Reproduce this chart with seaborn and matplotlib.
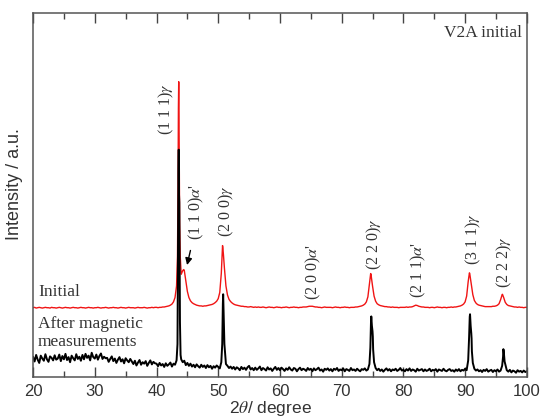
import numpy as np
import seaborn as sns
import matplotlib.pyplot as plt

# 2theta grid (0.25 deg steps) and intensities (a.u., axis 0..1000)
grid_2theta = np.arange(20, 100.001, 0.25)

initial_counts = [
    190, 191, 189, 190, 191, 190, 189, 190, 191, 190, 190, 189, 191, 190, 190, 189,  # 20
    190, 191, 190, 189, 190, 191, 190, 190, 189, 190, 191, 190, 190, 189, 190, 191,  # 24
    190, 190, 189, 190, 191, 190, 190, 189, 190, 190, 191, 190, 189, 190, 190, 191,  # 28
    190, 189, 190, 190, 191, 190, 190, 189, 190, 191, 190, 190, 189, 190, 191, 190,  # 32
    190, 190, 189, 190, 191, 190, 190, 190, 191, 190, 189, 190, 190, 191, 190, 191,  # 36
    191, 190, 191, 191, 192, 192, 193, 194, 195, 197, 200, 206, 218, 250, 560, 420,  # 40
    282, 292, 293, 265, 235, 218, 209, 204, 201, 199, 197, 196, 195, 195, 194, 195,  # 44
    195, 196, 197, 198, 199, 201, 204, 208, 215, 232, 285, 355, 300, 250, 225, 213,  # 48
    207, 203, 200, 198, 197, 196, 195, 194, 194, 193, 193, 192, 192, 193, 192, 191,  # 52
    192, 191, 192, 191, 191, 192, 191, 190, 191, 192, 191, 191, 190, 191, 192, 191,  # 56
    191, 190, 191, 191, 192, 191, 190, 191, 191, 192, 191, 191, 190, 191, 191, 192,  # 60
    192, 192, 193, 194, 194, 194, 193, 192, 192, 191, 191, 190, 191, 192, 191, 191,  # 64
    191, 191, 190, 191, 192, 191, 191, 190, 191, 191, 192, 191, 191, 190, 191, 191,  # 68
    191, 192, 192, 193, 194, 195, 197, 200, 206, 220, 255, 282, 250, 222, 208, 201,  # 72
    198, 196, 195, 194, 193, 193, 192, 192, 191, 192, 191, 191, 191, 190, 191, 191,  # 76
    191, 191, 192, 191, 192, 192, 193, 195, 197, 196, 194, 193, 192, 192, 191, 191,  # 80
    191, 190, 191, 191, 190, 191, 192, 191, 191, 190, 191, 191, 190, 191, 191, 192,  # 84
    191, 192, 192, 193, 194, 195, 197, 200, 206, 222, 262, 284, 255, 226, 210, 203,  # 88
    199, 197, 196, 195, 194, 193, 193, 193, 193, 193, 194, 194, 195, 197, 201, 212,  # 92
    226, 218, 205, 199, 196, 195, 194, 193, 192, 192, 191, 192, 191, 191, 190, 191,  # 96
    191,
]

after_counts = [
    55, 42, 60, 47, 38, 58, 50, 44, 62, 48, 41, 56, 52, 45, 59, 47,  # 20
    50, 61, 43, 57, 48, 63, 46, 54, 40, 58, 51, 45, 62, 49, 55, 44,  # 24
    60, 48, 63, 52, 58, 45, 66, 54, 50, 61, 47, 57, 64, 49, 55, 51,  # 28
    52, 41, 49, 56, 43, 50, 38, 47, 54, 42, 48, 37, 51, 45, 40, 49,  # 32
    42, 35, 44, 31, 39, 46, 33, 40, 36, 43, 30, 38, 45, 34, 41, 37,  # 36
    36, 29, 38, 31, 35, 27, 37, 30, 34, 39, 28, 36, 33, 45, 380, 300,  # 40
    48, 40, 44, 32, 38, 30, 36, 28, 33, 26, 34, 29, 25, 33, 27, 31,  # 44
    24, 32, 26, 30, 22, 29, 25, 31, 27, 23, 40, 200, 90, 35, 30, 24,  # 48
    28, 22, 27, 20, 26, 23, 18, 27, 21, 25, 19, 26, 30, 20, 24, 18,  # 52
    25, 19, 23, 28, 18, 24, 21, 17, 26, 20, 23, 16, 22, 27, 19, 24,  # 56
    18, 25, 21, 16, 23, 19, 26, 20, 17, 24, 22, 15, 21, 25, 18, 22,  # 60
    20, 16, 24, 19, 22, 15, 23, 18, 21, 25, 17, 20, 14, 22, 19, 23,  # 64
    17, 21, 15, 22, 19, 24, 16, 20, 18, 23, 15, 21, 19, 16, 24, 18,  # 68
    20, 16, 22, 18, 15, 21, 19, 23, 17, 20, 35, 150, 125, 40, 24, 18,  # 72
    22, 16, 20, 14, 19, 23, 17, 21, 15, 20, 18, 22, 16, 19, 24, 17,  # 76
    19, 15, 21, 17, 23, 16, 20, 18, 14, 22, 17, 19, 21, 15, 20, 16,  # 80
    18, 22, 15, 19, 17, 21, 14, 20, 18, 16, 22, 17, 15, 19, 21, 16,  # 84
    18, 14, 20, 16, 21, 15, 19, 17, 22, 18, 45, 165, 120, 38, 22, 17,  # 88
    20, 15, 18, 13, 19, 16, 21, 14, 17, 19, 13, 18, 15, 20, 14, 17,  # 92
    30, 72, 35, 18, 14, 19, 12, 17, 15, 11, 18, 14, 16, 12, 17, 13,  # 96
    15,
]

# extra points around the peak tops (finer than the grid)
initial_peak_2theta = [43.4, 43.55, 43.6, 43.65, 43.85, 44.4, 50.65, 50.7, 50.85, 74.7, 90.7, 96.05]
initial_peak_counts = [330, 740, 812, 700, 330, 295, 345, 361, 335, 284, 286, 227]

after_peak_2theta = [43.4, 43.45, 43.55, 43.6, 43.65, 43.7, 43.8, 43.9,
                     50.65, 50.8, 50.85, 50.9, 50.95,
                     74.65, 74.8, 74.9, 75.05, 75.1,
                     90.65, 90.8, 90.9, 91.05, 91.1,
                     96.15, 96.2, 96.3, 96.35, 96.4]
after_peak_counts = [90, 250, 560, 625, 500, 480, 150, 60,
                     90, 227, 190, 150, 120,
                     80, 166, 140, 110, 75,
                     110, 172, 140, 105, 70,
                     55, 76, 62, 50, 42]

# reflection labels
peak_labels = [r"(1 1 1)$\gamma$", r"(1 1 0)$\alpha$'", r"(2 0 0)$\gamma$", r"(2 0 0)$\alpha$'",
               r"(2 2 0)$\gamma$", r"(2 1 1)$\alpha$'", r"(3 1 1)$\gamma$", r"(2 2 2)$\gamma$"]
label_pos = [(41.6, 665), (46.4, 376), (51.3, 384), (65.4, 211),
             (75.3, 294), (82.4, 217), (91.35, 307), (96.4, 244)]

sns.set_theme(style="ticks")
plt.rcParams['mathtext.fontset'] = 'stix'

fig = plt.figure(figsize=(5.42, 4.2), dpi=100)
ax = fig.add_axes([0.061, 0.103, 0.911, 0.865])

x_init = np.concatenate([grid_2theta, initial_peak_2theta])
y_init = np.concatenate([initial_counts, initial_peak_counts])
x_after = np.concatenate([grid_2theta, after_peak_2theta])
y_after = np.concatenate([after_counts, after_peak_counts])

sns.lineplot(x=x_init, y=y_init, ax=ax, color="#f01414", lw=1.0)
sns.lineplot(x=x_after, y=y_after, ax=ax, color="black", lw=1.4)

ax.set_xlim(20, 100)
ax.set_ylim(0, 1000)
ax.set_yticks([])
ax.set_xticks(range(20, 101, 10))
ax.set_xticks(range(25, 100, 10), minor=True)
ax.tick_params(axis='x', which='both', direction='in', top=True, bottom=True,
               colors='#444444', labelcolor='#333333', width=1.0)
ax.tick_params(axis='x', which='major', length=7, pad=5, labelsize=12)
ax.tick_params(axis='x', which='minor', length=4)
for lab in ax.get_xticklabels():
    lab.set_family(['Liberation Sans', 'DejaVu Sans'])
for sp in ax.spines.values():
    sp.set_visible(True)
    sp.set_color('#555555')
    sp.set_linewidth(1.1)

serif = ['Liberation Serif', 'DejaVu Serif']
for txt, (px, py) in zip(peak_labels, label_pos):
    ax.text(px, py, txt, rotation=90, ha='center', va='bottom', fontsize=11.5,
            family=serif, color='#333333')

# arrow pointing at the (110) alpha' shoulder
ax.annotate("", xy=(44.85, 300), xytext=(45.6, 355),
            arrowprops=dict(arrowstyle="-|>", color="black", lw=1.0, mutation_scale=10))

ax.text(20.8, 233, "Initial", fontsize=12.5, family=serif, color='#333333', va='center')
ax.text(20.8, 121, "After magnetic\nmeasurements", fontsize=12.5, family=serif,
        color='#333333', va='center', linespacing=1.2)
ax.text(0.99, 0.945, "V2A initial", transform=ax.transAxes, fontsize=12.5, family=serif,
        color='#333333', ha='right', va='center')

ax.set_xlabel(r"2$\theta$/ degree", fontsize=12.5, family=['Liberation Sans', 'DejaVu Sans'],
              color='#333333')
ax.xaxis.set_label_coords(0.481, -0.06)
ax.set_ylabel("Intensity / a.u.", fontsize=13, family=['Liberation Sans', 'DejaVu Sans'],
              color='#333333')
ax.yaxis.set_label_coords(-0.02, 0.53)

plt.savefig("out.png", dpi=100)
